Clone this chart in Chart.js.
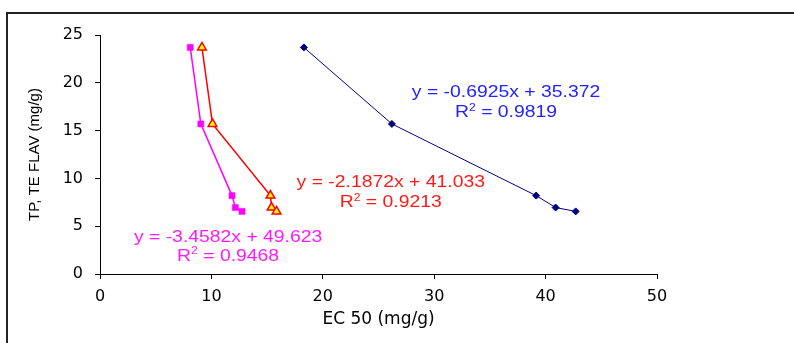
<!DOCTYPE html>
<html>
<head>
	<meta charset="utf-8">
	<title>EC50 vs TP, TE FLAV</title>
	<style>
		html, body { margin: 0; padding: 0; background: #fff; }
		#wrap { width: 794px; height: 343px; position: relative; }
	</style>
</head>
<body>
	<div id="wrap"><canvas id="chart" width="794" height="343"></canvas></div>
	<script src="https://cdn.jsdelivr.net/npm/chart.js@4.4.1/dist/chart.umd.min.js"></script>
	<script>
		'use strict'

		// values
		const yLevels = [23.7, 15.7, 8.2, 6.95, 6.55]
		const ecNavy = [18.3, 26.2, 39.15, 40.9, 42.7]
		const ecMagenta = [8.1, 9.05, 11.85, 12.15, 12.75]
		const ecRed = [9.15, 10.1, 15.3, 15.4, 15.85]

		const xTicks = [0, 10, 20, 30, 40, 50]
		const yTicks = [0, 5, 10, 15, 20, 25]

		// trend line equations shown as text
		const eqText = [
			['y = -0.6925x + 35.372', '0.9819'],
			['y = -2.1872x + 41.033', '0.9213'],
			['y = -3.4582x + 49.623', '0.9468']
		]
		const eqColor = ['#2323ff', '#ff1a1a', '#ff1aff']
		// where the labels sit, in axis units (centre of each line)
		const eqAt = [
			{ x: 36.45, y1: 18.95, y2: 16.85 },
			{ x: 26.1, y1: 9.6, y2: 7.45 },
			{ x: 11.5, y1: 3.85, y2: 1.85 }
		]

		function pts(xs) {
			return xs.map((x, i) => ({ x: x, y: yLevels[i] }))
		}

		const arial = 'Liberation Sans, Arial, sans-serif'
		const wide = 'DejaVu Sans, sans-serif'
		const stretch = 1.21 // the source text is wider than plain Arial

		const frame = {
			id: 'frame',
			beforeDraw(chart) {
				const ctx = chart.ctx
				ctx.save()
				ctx.strokeStyle = '#222'
				ctx.lineWidth = 2
				ctx.strokeRect(7, 13, 900, 400)
				ctx.restore()
			}
		}

		const equations = {
			id: 'equations',
			afterDatasetsDraw(chart) {
				const ctx = chart.ctx
				const xs = chart.scales.x
				const ys = chart.scales.y
				ctx.save()
				ctx.textBaseline = 'middle'
				ctx.textAlign = 'left'
				eqText.forEach((t, i) => {
					const px = xs.getPixelForValue(eqAt[i].x)
					const py1 = ys.getPixelForValue(eqAt[i].y1)
					const py2 = ys.getPixelForValue(eqAt[i].y2)
					ctx.fillStyle = eqColor[i]

					ctx.font = '16px ' + arial
					const w1 = ctx.measureText(t[0]).width * stretch
					ctx.save()
					ctx.translate(px - w1 / 2, py1)
					ctx.scale(stretch, 1)
					ctx.fillText(t[0], 0, 0)
					ctx.restore()

					// R² line with a raised 2
					const b = ' = ' + t[1]
					const wa = ctx.measureText('R').width
					const wb = ctx.measureText(b).width
					ctx.font = '10px ' + arial
					const w2 = ctx.measureText('2').width
					const total = (wa + w2 + wb) * stretch
					ctx.save()
					ctx.translate(px - total / 2, py2)
					ctx.scale(stretch, 1)
					ctx.font = '16px ' + arial
					ctx.fillText('R', 0, 0)
					ctx.font = '10px ' + arial
					ctx.fillText('2', wa, -5)
					ctx.font = '16px ' + arial
					ctx.fillText(b, wa + w2, 0)
					ctx.restore()
				})
				ctx.restore()
			}
		}

		new Chart(document.getElementById('chart'), {
			type: 'scatter',
			data: {
				datasets: [
					{
						label: 'navy',
						data: pts(ecNavy),
						showLine: true,
						borderColor: '#000080',
						backgroundColor: '#000080',
						borderWidth: 1,
						pointStyle: 'rectRot',
						pointRadius: 3.5,
						pointBorderWidth: 1
					},
					{
						label: 'magenta',
						data: pts(ecMagenta),
						showLine: true,
						borderColor: '#ff00ff',
						backgroundColor: '#ff00ff',
						borderWidth: 1.5,
						pointStyle: 'rect',
						pointRadius: 4.3,
						pointBorderWidth: 0.5
					},
					{
						label: 'red',
						data: pts(ecRed),
						showLine: true,
						borderColor: '#ff0000',
						backgroundColor: '#ffff00',
						borderWidth: 1.5,
						pointStyle: 'triangle',
						pointRadius: 5,
						pointBorderWidth: 1.5
					}
				]
			},
			options: {
				responsive: false,
				animation: false,
				layout: { padding: { left: 24, right: 137, top: 35, bottom: 0 } },
				plugins: {
					legend: { display: false },
					tooltip: { enabled: false }
				},
				scales: {
					x: {
						type: 'linear',
						min: 0,
						max: 50,
						afterBuildTicks(s) { s.ticks = xTicks.map(v => ({ value: v })) },
						afterFit(s) { s.height = 69 },
						border: { display: true, color: '#000', width: 1 },
						grid: { drawOnChartArea: false, drawTicks: true, tickLength: 5, color: '#000' },
						ticks: { color: '#000', padding: 8, font: { family: wide, size: 16 } },
						title: { display: true, text: 'EC 50 (mg/g)', color: '#000', padding: { top: 0, bottom: 13 }, font: { family: wide, size: 17 } }
					},
					y: {
						type: 'linear',
						min: 0,
						max: 25,
						afterBuildTicks(s) { s.ticks = yTicks.map(v => ({ value: v })) },
						afterFit(s) { s.width = 76 },
						border: { display: true, color: '#000', width: 1 },
						grid: { drawOnChartArea: false, drawTicks: true, tickLength: 5, color: '#000' },
						ticks: { color: '#000', padding: 12, font: { family: wide, size: 16 } },
						title: { display: true, text: 'TP, TE FLAV (mg/g)', color: '#000', padding: { top: 2, bottom: 0 }, font: { family: arial, size: 15 } }
					}
				}
			},
			plugins: [frame, equations]
		})
	</script>
</body>
</html>
